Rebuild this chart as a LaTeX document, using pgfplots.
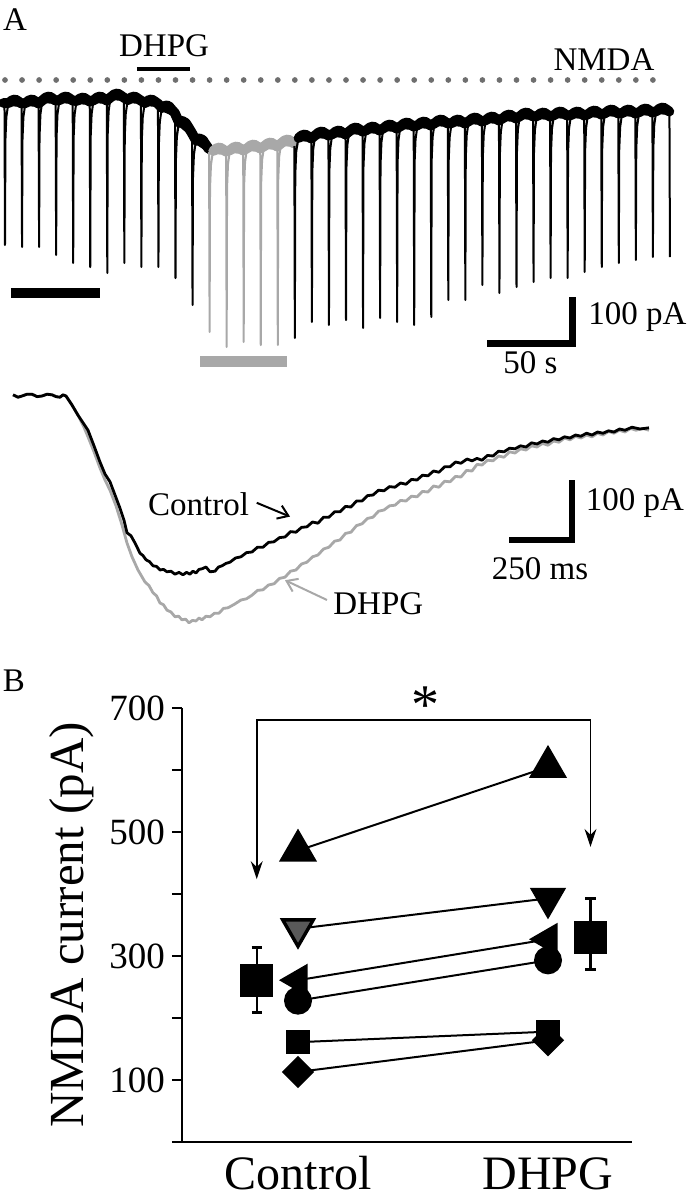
\documentclass[border=0pt]{standalone}
\usepackage{fontspec}
\setmainfont{Liberation Serif}
\usepackage{pgfplots}
\pgfplotsset{compat=1.18}
\usetikzlibrary{arrows.meta}
\definecolor{tracegray}{RGB}{168,168,168}
\definecolor{dotgray}{RGB}{110,110,110}
\newcommand{\fa}{\fontsize{16.5}{18}\selectfont}
\begin{document}
\begin{tikzpicture}
\useasboundingbox (0pt,0pt) rectangle (343.5pt,-599.5pt);
\node[font=\fa] at (7.5pt,-10pt) {A};
\node[font=\fa] at (7pt,-340.5pt) {B};

% ---------------- Panel A, top: time course ----------------
\begin{axis}[at={(0pt,0pt)}, anchor=north west, scale only axis,
  width=343.5pt, height=190pt, xmin=-2.93, xmax=400, ymin=-558, ymax=202,
  hide axis, clip=false]
% NMDA puffs
\addplot[only marks, mark=*, mark size=1.2pt, color=dotgray] coordinates {
(0,42) (10,42) (20,42) (30,42) (40,42) (50,42) (60,42) (70,42) (80,42) (90,42)
(100,42) (110,42) (120,42) (130,42) (140,42) (150,42) (160,42) (170,42) (180,42) (190,42)
(200,42) (210,42) (220,42) (230,42) (240,42) (250,42) (260,42) (270,42) (280,42) (290,42)
(300,42) (310,42) (320,42) (330,42) (340,42) (350,42) (360,42) (370,42) (380,42)};
% black block 1 (thin)
\addplot[black, line width=1pt, line join=round] coordinates {
(-1.2,-6) (-0.3,-10)
(0,-288) (0.25,-78) (0.8,-32) (1.8,-8) (9.7,-10)
(10,-292) (10.25,-78) (10.8,-32) (11.8,-8) (19.7,-10)
(20,-292) (20.25,-72) (20.8,-26) (21.8,-2) (29.7,-4)
(30,-308) (30.25,-72) (30.8,-26) (31.8,-2) (39.7,-4)
(40,-324) (40.25,-74) (40.8,-28) (41.8,-4) (49.7,-6)
(50,-332) (50.25,-72) (50.8,-26) (51.8,-2) (59.7,-4)
(60,-344) (60.25,-66) (60.8,-20) (61.8,4) (69.7,2)
(70,-324) (70.25,-72) (70.8,-26) (71.8,-2) (79.7,-4)
(80,-332) (80.25,-78) (80.8,-32) (81.8,-8) (89.7,-10)
(90,-332) (90.25,-88) (90.8,-42) (91.8,-18) (99.7,-30)
(100,-354) (100.25,-118) (100.8,-72) (101.8,-48) (109.7,-70)
(110,-408) (110.25,-154) (110.8,-108) (111.8,-84) (119.7,-102)};
% black block 1 (plateaus)
\addplot[black, line width=5pt, line join=round, line cap=round] coordinates {
(-0.8,-4) (2.2,-4) (4,1) (6,3) (7.5,0) (9.6,-5)
(12.2,-4) (14,1) (16,3) (17.5,0) (19.6,-5)
(22.2,2) (24,7) (26,9) (27.5,6) (29.6,1)
(32.2,2) (34,7) (36,9) (37.5,6) (39.6,1)
(42.2,0) (44,5) (46,7) (47.5,4) (49.6,-1)
(52.2,2) (54,7) (56,9) (57.5,6) (59.6,1)
(62.2,8) (64,13) (66,15) (67.5,12) (69.6,7)
(72.2,2) (74,7) (76,9) (77.5,6) (79.6,1)
(82.2,-4) (84,1) (86,3) (87.5,0) (89.6,-5)
(92.2,-14) (94,-9) (96,-10) (97.5,-16) (99.6,-24)
(102.2,-44) (104,-40) (106,-44) (107.5,-52) (109.6,-64)
(112.2,-80) (114,-75) (116,-78) (117.5,-86) (119.6,-96)};
% grey block (DHPG)
\addplot[tracegray, line width=1pt, line join=round] coordinates {
(119.7,-102)
(120,-462) (120.25,-174) (120.8,-128) (121.8,-104) (129.7,-106)
(130,-492) (130.25,-172) (130.8,-126) (131.8,-102) (139.7,-104)
(140,-482) (140.25,-168) (140.8,-122) (141.8,-98) (149.7,-100)
(150,-488) (150.25,-164) (150.8,-118) (151.8,-94) (159.7,-96)
(160,-488) (160.25,-158) (160.8,-112) (161.8,-88) (169.7,-90)};
\addplot[tracegray, line width=5pt, line join=round, line cap=round] coordinates {
(122.2,-100) (124,-95) (126,-93) (127.5,-96) (129.6,-101)
(132.2,-98) (134,-93) (136,-91) (137.5,-94) (139.6,-99)
(142.2,-94) (144,-89) (146,-87) (147.5,-90) (149.6,-95)
(152.2,-90) (154,-85) (156,-83) (157.5,-86) (159.6,-91)
(162.2,-84) (164,-79) (166,-77) (167.5,-80) (169.6,-85)};
% black block 2
\addplot[black, line width=1pt, line join=round] coordinates {
(169.7,-90)
(170,-474) (170.25,-148) (170.8,-102) (171.8,-78) (179.7,-80)
(180,-442) (180.25,-142) (180.8,-96) (181.8,-72) (189.7,-74)
(190,-448) (190.25,-140) (190.8,-94) (191.8,-70) (199.7,-72)
(200,-438) (200.25,-134) (200.8,-88) (201.8,-64) (209.7,-66)
(210,-454) (210.25,-132) (210.8,-86) (211.8,-62) (219.7,-64)
(220,-434) (220.25,-128) (220.8,-82) (221.8,-58) (229.7,-60)
(230,-442) (230.25,-124) (230.8,-78) (231.8,-54) (239.7,-56)
(240,-448) (240.25,-122) (240.8,-76) (241.8,-52) (249.7,-54)
(250,-432) (250.25,-118) (250.8,-72) (251.8,-48) (259.7,-50)
(260,-398) (260.25,-118) (260.8,-72) (261.8,-48) (269.7,-50)
(270,-398) (270.25,-114) (270.8,-68) (271.8,-44) (279.7,-46)
(280,-368) (280.25,-112) (280.8,-66) (281.8,-42) (289.7,-44)
(290,-384) (290.25,-108) (290.8,-62) (291.8,-38) (299.7,-40)
(300,-372) (300.25,-104) (300.8,-58) (301.8,-34) (309.7,-36)
(310,-362) (310.25,-104) (310.8,-58) (311.8,-34) (319.7,-36)
(320,-354) (320.25,-102) (320.8,-56) (321.8,-32) (329.7,-34)
(330,-354) (330.25,-102) (330.8,-56) (331.8,-32) (339.7,-34)
(340,-342) (340.25,-100) (340.8,-54) (341.8,-30) (349.7,-32)
(350,-332) (350.25,-98) (350.8,-52) (351.8,-28) (359.7,-30)
(360,-324) (360.25,-98) (360.8,-52) (361.8,-28) (369.7,-30)
(370,-318) (370.25,-96) (370.8,-50) (371.8,-26) (379.7,-28)
(380,-312) (380.25,-94) (380.8,-48) (381.8,-24) (389.7,-26)
(390,-312)};
\addplot[black, line width=5pt, line join=round, line cap=round] coordinates {
(172.2,-74) (174,-69) (176,-67) (177.5,-70) (179.6,-75)
(182.2,-68) (184,-63) (186,-61) (187.5,-64) (189.6,-69)
(192.2,-66) (194,-61) (196,-59) (197.5,-62) (199.6,-67)
(202.2,-60) (204,-55) (206,-53) (207.5,-56) (209.6,-61)
(212.2,-58) (214,-53) (216,-51) (217.5,-54) (219.6,-59)
(222.2,-54) (224,-49) (226,-47) (227.5,-50) (229.6,-55)
(232.2,-50) (234,-45) (236,-43) (237.5,-46) (239.6,-51)
(242.2,-48) (244,-43) (246,-41) (247.5,-44) (249.6,-49)
(252.2,-44) (254,-39) (256,-37) (257.5,-40) (259.6,-45)
(262.2,-44) (264,-39) (266,-37) (267.5,-40) (269.6,-45)
(272.2,-40) (274,-35) (276,-33) (277.5,-36) (279.6,-41)
(282.2,-38) (284,-33) (286,-31) (287.5,-34) (289.6,-39)
(292.2,-34) (294,-29) (296,-27) (297.5,-30) (299.6,-35)
(302.2,-30) (304,-25) (306,-23) (307.5,-26) (309.6,-31)
(312.2,-30) (314,-25) (316,-23) (317.5,-26) (319.6,-31)
(322.2,-28) (324,-23) (326,-21) (327.5,-24) (329.6,-29)
(332.2,-28) (334,-23) (336,-21) (337.5,-24) (339.6,-29)
(342.2,-26) (344,-21) (346,-19) (347.5,-22) (349.6,-27)
(352.2,-24) (354,-19) (356,-17) (357.5,-20) (359.6,-25)
(362.2,-24) (364,-19) (366,-17) (367.5,-20) (369.6,-25)
(372.2,-22) (374,-17) (376,-15) (377.5,-18) (379.6,-23)
(382.2,-20) (384,-15) (386,-13) (387.5,-16) (389.6,-21)};
% bars
\draw[line width=2pt] (axis cs:77.4,64) -- (axis cs:108.5,64);
\node[font=\fa] at (axis cs:93.3,110) {DHPG};
\node[font=\fa] at (axis cs:351.3,82) {NMDA};
\draw[line width=5pt] (axis cs:3.5,-384) -- (axis cs:55.7,-384);
\draw[line width=5.5pt, tracegray] (axis cs:114.4,-520) -- (axis cs:165.4,-520);
% scale bar
\draw[line width=3.2pt, line join=miter] (axis cs:332.85,-392) -- (axis cs:332.85,-485) -- (axis cs:282.7,-485);
\node[font=\fa, anchor=west, inner sep=0pt] at (axis cs:341.9,-433) {100 pA};
\node[font=\fa] at (axis cs:308.2,-524) {50 s};
\end{axis}

% ---------------- Panel A, bottom: averaged currents ----------------
\begin{axis}[at={(0pt,-190pt)}, anchor=north west, scale only axis,
  width=343.5pt, height=130pt, xmin=-52, xmax=2696, ymin=-406.7, ymax=26.7,
  hide axis, clip=false]
\addplot[tracegray, line width=1.4pt, line join=round] coordinates {
(0,2) (20,-2) (36,0) (56,3) (76,3) (96,-1) (116,0) (136,3) (156,2) (172,-1) (188,-2) (200,2) (212,0)
(236,-15) (260,-32) (284,-52) (300,-68) (324,-93) (348,-120) (368,-140) (388,-157) (412,-183)
(436,-215) (456,-245) (476,-268) (500,-290) (528,-310) (544,-316) (560,-328) (574,-333) (588,-345)
(602,-348) (616,-357) (632,-360) (648,-368) (662,-367) (676,-373) (690,-372) (704,-378) (718,-374)
(732,-375) (744,-370) (756,-373) (772,-367) (788,-368) (806,-362) (824,-362) (842,-354) (860,-353)
(886,-347) (912,-340) (934,-338) (956,-332) (978,-324) (1000,-323) (1022,-315) (1044,-313)
(1066,-304) (1088,-302) (1110,-292) (1132,-290) (1154,-280) (1176,-277) (1198,-268) (1220,-265)
(1242,-255) (1264,-252) (1286,-242) (1308,-240) (1330,-229) (1352,-227) (1374,-216) (1396,-213)
(1418,-204) (1440,-202) (1462,-192) (1484,-190) (1506,-183) (1528,-182) (1550,-174) (1572,-175)
(1594,-167) (1616,-168) (1638,-159) (1660,-160) (1682,-150) (1704,-152) (1726,-142) (1748,-143)
(1770,-134) (1792,-135) (1814,-124) (1836,-125) (1856,-114) (1876,-115) (1898,-107) (1920,-108)
(1942,-100) (1964,-102) (1986,-93) (2008,-95) (2030,-88) (2052,-90) (2074,-83) (2096,-85)
(2118,-79) (2140,-82) (2162,-75) (2184,-77) (2206,-70) (2228,-73) (2250,-67) (2272,-70)
(2294,-65) (2316,-68) (2338,-62) (2360,-65) (2382,-59) (2404,-62) (2426,-57) (2448,-60)
(2470,-54) (2492,-57) (2518,-54) (2544,-57)};
\addplot[black, line width=1.4pt, line join=round] coordinates {
(0,2) (20,-2) (36,0) (56,3) (76,3) (96,-1) (116,0) (136,3) (156,2) (172,-1) (188,-2) (200,2) (212,0)
(236,-15) (260,-32) (284,-47) (300,-57) (324,-83) (348,-110) (368,-130) (388,-143) (408,-165)
(428,-187) (444,-207) (456,-228) (472,-233) (488,-245) (508,-262) (520,-266) (532,-273) (546,-276)
(560,-283) (574,-284) (588,-290) (602,-289) (616,-293) (632,-292) (648,-297) (664,-294) (680,-298)
(694,-294) (708,-297) (720,-292) (732,-295) (744,-289) (756,-288) (772,-285) (788,-293) (808,-292)
(822,-285) (836,-283) (852,-279) (868,-277) (890,-270) (912,-268) (934,-261) (956,-260)
(978,-252) (1000,-252) (1022,-244) (1044,-243) (1066,-236) (1088,-235) (1110,-226) (1132,-227)
(1154,-219) (1176,-218) (1198,-210) (1220,-212) (1242,-202) (1264,-202) (1286,-193) (1308,-193)
(1330,-184) (1352,-185) (1374,-175) (1396,-175) (1418,-166) (1440,-165) (1462,-157) (1484,-158)
(1506,-151) (1528,-152) (1550,-145) (1572,-147) (1594,-139) (1616,-140) (1638,-132) (1660,-133)
(1682,-125) (1704,-127) (1726,-118) (1748,-118) (1770,-110) (1792,-112) (1816,-105) (1836,-108)
(1856,-104) (1876,-107) (1898,-99) (1920,-100) (1942,-92) (1964,-93) (1986,-87) (2008,-88)
(2030,-83) (2052,-85) (2074,-78) (2096,-80) (2118,-75) (2140,-77) (2162,-71) (2184,-73)
(2206,-68) (2228,-70) (2250,-65) (2272,-67) (2294,-62) (2316,-65) (2338,-60) (2360,-62)
(2382,-58) (2404,-60) (2426,-55) (2448,-57) (2476,-52) (2508,-55) (2544,-53)};
\node[font=\fa] at (axis cs:742,-180) {Control};
\draw[line width=1pt, -{Straight Barb[length=5pt,width=7pt]}] (axis cs:975,-178) -- (axis cs:1108,-201);
\node[font=\fa, anchor=west, inner sep=0pt] at (axis cs:1280,-347) {DHPG};
\draw[tracegray, line width=1pt, -{Straight Barb[length=5pt,width=7pt]}] (axis cs:1256,-340) -- (axis cs:1088,-307);
\draw[line width=3.2pt, line join=miter] (axis cs:2236,-140) -- (axis cs:2236,-240) -- (axis cs:1984,-240);
\node[font=\fa, anchor=west, inner sep=0pt] at (axis cs:2290,-178) {100 pA};
\node[font=\fa] at (axis cs:2108,-287) {250 ms};
\end{axis}

% ---------------- Panel B ----------------
\begin{axis}[at={(91pt,-571pt)}, anchor=south west, scale only axis,
  width=225pt, height=217pt, xmin=0.536, xmax=2.336, ymin=0, ymax=700,
  axis x line*=bottom, axis y line*=left,
  x axis line style={line width=1.4pt,-}, y axis line style={line width=1.2pt,-},
  ytick={0,100,200,300,400,500,600,700}, yticklabels={,100,,300,,500,,700},
  ytick style={line width=1.2pt, black}, major tick length=5pt, tick align=outside,
  xtick={1,2}, xticklabels={Control,DHPG}, xtick style={draw=none},
  yticklabel style={font=\fontsize{18.5}{20}\selectfont},
  xticklabel style={font=\fontsize{24}{26}\selectfont, anchor=base, inner sep=0pt, yshift=-18.5pt},
  /pgf/number format/assume math mode=true,
  ylabel={NMDA current (pA)},
  ylabel style={font=\fontsize{24.5}{26}\selectfont, at={(axis description cs:-0.244,0.5)}, anchor=center},
  clip=false]
% individual cells
\addplot[black, line width=1pt, mark=triangle*, mark size=10pt, mark options={solid, fill=black}] coordinates {(1,470) (2,605)};
\addplot[black, line width=1pt, mark=triangle*, mark size=9.5pt, mark options={solid, fill=black, rotate=180}] coordinates {(1,344) (2,393)};
\addplot[only marks, mark=triangle*, mark size=8.5pt, mark options={fill=black!65, draw=black, line width=1.4pt, rotate=180}] coordinates {(1,344)};
\addplot[black, line width=1pt, mark=triangle*, mark size=8.5pt, mark options={solid, fill=black, rotate=90}] coordinates {(1,261) (2,327)};
\addplot[black, line width=1pt, mark=*, mark size=6.5pt, mark options={solid, fill=black}] coordinates {(1,228) (2,293)};
\addplot[black, line width=1pt, mark=square*, mark size=5.5pt, mark options={solid, fill=black}] coordinates {(1,161) (2,178)};
\addplot[black, line width=1pt, mark=square*, mark size=5.2pt, mark options={solid, fill=black, rotate=45}] coordinates {(1,113) (2,164)};
% means with error bars
\addplot[only marks, black, mark=square*, mark size=8pt,
  error bars/.cd, y dir=both, y explicit,
  error bar style={line width=1.2pt},
  error mark options={rotate=90, mark size=2.6pt, line width=1.2pt}]
  coordinates {(0.835,261) += (0,53) -= (0,52) (2.17,330) += (0,63) -= (0,52)};
% significance bracket
\draw[line width=0.8pt, {Stealth[length=9pt,width=6pt]}-{Stealth[length=9pt,width=6pt]}]
  (axis cs:0.835,424) -- (axis cs:0.835,681) -- (axis cs:2.17,681) -- (axis cs:2.17,476);
\node[font=\fontsize{28}{30}\selectfont] at (axis cs:1.508,705) {*};
\end{axis}
\end{tikzpicture}
\end{document}
